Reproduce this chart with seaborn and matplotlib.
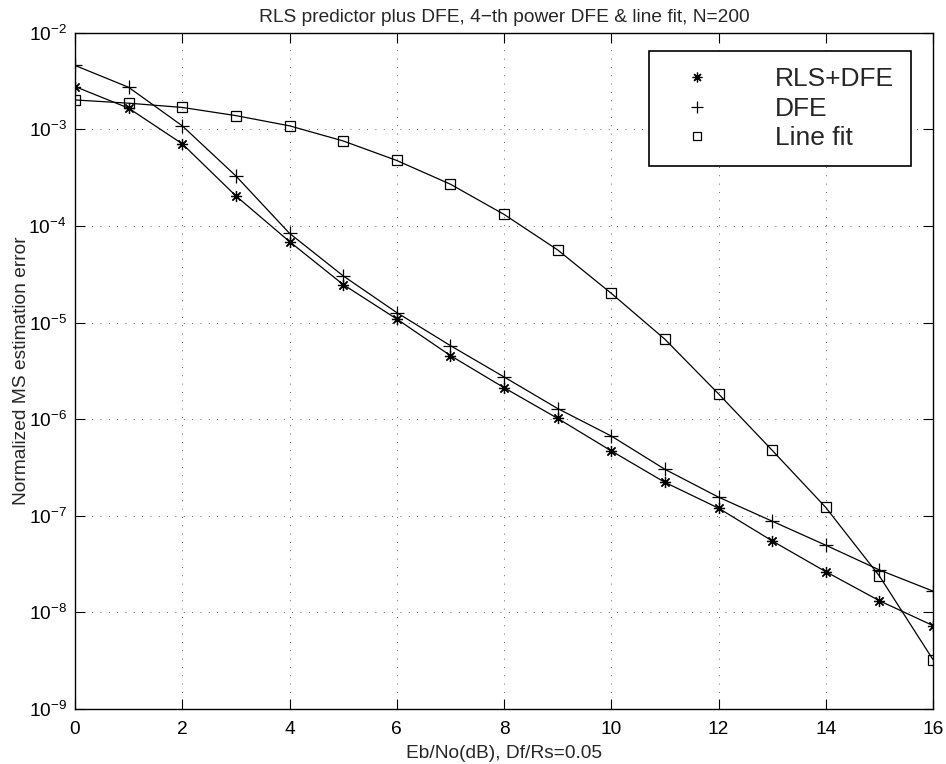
import numpy as np
import pandas as pd
import matplotlib
matplotlib.use("Agg")
import matplotlib.pyplot as plt
import seaborn as sns
from matplotlib.lines import Line2D
from matplotlib.ticker import LogLocator, NullLocator, FixedLocator

# Eb/No in dB
ebno = list(range(17))

# Normalized MS estimation error
rls_dfe = [2.78e-3, 1.66e-3, 7.1e-4, 2.05e-4, 6.9e-5, 2.48e-5, 1.09e-5, 4.56e-6,
           2.12e-6, 1.02e-6, 4.7e-7, 2.22e-7, 1.2e-7, 5.5e-8, 2.64e-8, 1.32e-8, 7.3e-9]
dfe = [4.6e-3, 2.73e-3, 1.09e-3, 3.3e-4, 8.4e-5, 3.05e-5, 1.27e-5, 5.78e-6,
       2.74e-6, 1.29e-6, 6.7e-7, 3.03e-7, 1.56e-7, 8.8e-8, 4.96e-8, 2.75e-8, 1.66e-8]
line_fit = [2.02e-3, 1.87e-3, 1.69e-3, 1.39e-3, 1.09e-3, 7.6e-4, 4.77e-4, 2.71e-4,
            1.32e-4, 5.66e-5, 2.01e-5, 6.73e-6, 1.83e-6, 4.77e-7, 1.22e-7, 2.38e-8, 3.24e-9]

series_names = ["RLS+DFE", "DFE", "Line fit"]
series_values = [rls_dfe, dfe, line_fit]
series_markers = [(8, 2, 0), "+", "s"]
marker_sizes = [8, 10, 7]
x_ticks = [0, 2, 4, 6, 8, 10, 12, 14, 16]

sns.set_style("ticks")
plt.rcParams['font.family'] = ['Liberation Sans', 'DejaVu Sans']
plt.rcParams['axes.unicode_minus'] = True

fig = plt.figure(figsize=(9.46, 7.64), dpi=100)
ax = fig.add_axes([0.0793, 0.072, 0.907, 0.885])

for name, vals, mk, ms in zip(series_names, series_values, series_markers, marker_sizes):
    df = pd.DataFrame({"x": ebno, "y": vals})
    sns.lineplot(data=df, x="x", y="y", ax=ax, color="black", linewidth=0.9,
                 marker=mk, markersize=ms, markerfacecolor="none",
                 markeredgecolor="black", markeredgewidth=0.9, sort=False)

ax.set_yscale("log")
ax.set_xlim(0, 16)
ax.set_ylim(1e-9, 1e-2)
ax.xaxis.set_major_locator(FixedLocator(x_ticks))
ax.yaxis.set_major_locator(LogLocator(base=10, numticks=20))
ax.yaxis.set_minor_locator(NullLocator())

ax.grid(True, which="major", color="#333333", linestyle=(0, (1, 9)), linewidth=0.6)
ax.tick_params(direction="in", top=True, right=True, length=7, width=0.8,
               labelsize=13.8, colors="black")
ax.tick_params(axis="x", pad=9)
ax.tick_params(axis="y", pad=6)
for sp in ax.spines.values():
    sp.set_linewidth(1.0)
    sp.set_color("black")

ax.set_title("RLS predictor plus DFE, 4\u2212th power DFE & line fit, N=200",
             fontsize=13.8, pad=8)
ax.set_xlabel("Eb/No(dB), Df/Rs=0.05", fontsize=13.8, labelpad=4.5)
ax.set_ylabel("Normalized MS estimation error", fontsize=13.8, labelpad=-1)

handles = [Line2D([], [], linestyle="none", marker=mk, color="black", markersize=ms - 1,
                  markerfacecolor="none", markeredgewidth=0.9)
           for mk, ms in zip(series_markers, marker_sizes)]
leg = ax.legend(handles, series_names, loc="upper right", bbox_to_anchor=(0.974, 0.973),
                fontsize=19, frameon=True, fancybox=False, framealpha=1,
                edgecolor="black", borderpad=0.62, labelspacing=0.2,
                handlelength=2.4, handletextpad=1.75, borderaxespad=0)
leg.get_frame().set_linewidth(1.2)

fig.savefig("out.png", dpi=100)
